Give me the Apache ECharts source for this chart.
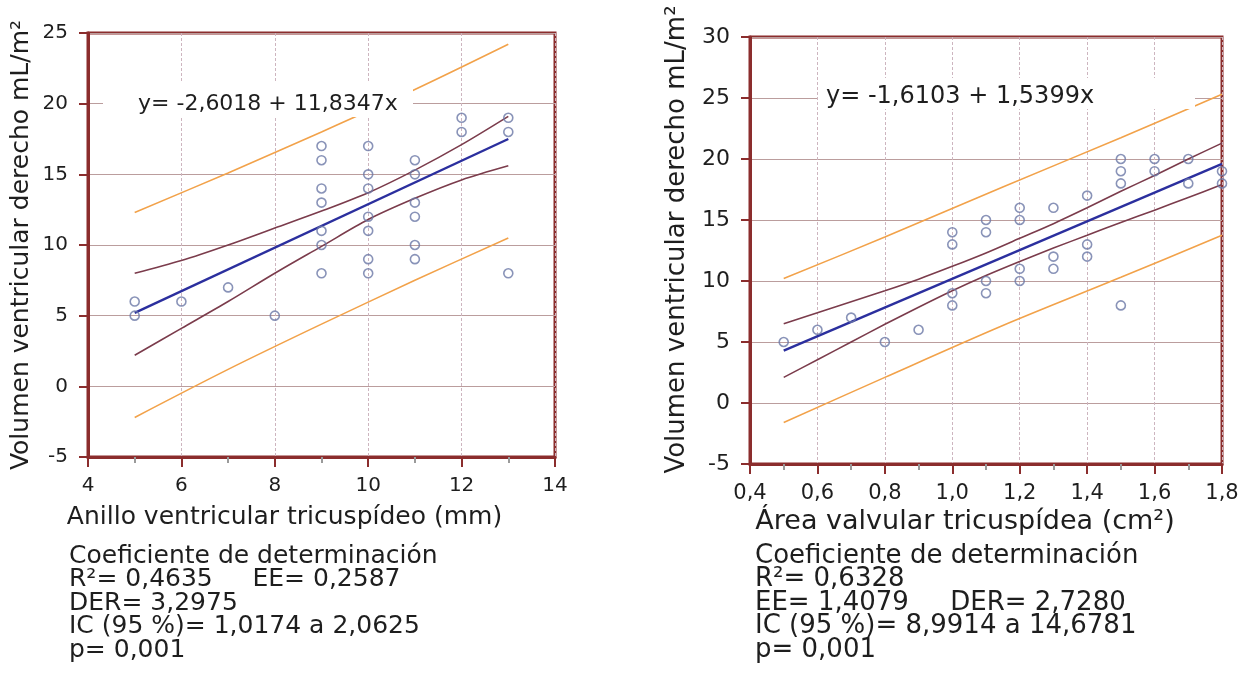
<!doctype html>
<html>
<head>
<meta charset="utf-8">
<title>regresion-volumen-vd</title>
<script src="https://cdn.jsdelivr.net/npm/echarts@6/dist/echarts.min.js"></script>
<style>
  html,body{margin:0;padding:0;background:#fff;}
  #chart{width:1255px;height:686px;}
</style>
</head>
<body>
<div id="chart"></div>
<script>
// ---- datos: anillo ventricular tricuspideo (mm) vs volumen VD ----
var anilloX = [5,5,6,7,8, 9,9,9,9,9,9,9, 10,10,10,10,10,10,10, 11,11,11,11,11,11, 12,12, 13,13,13];
var anilloY = [6,5,6,7,5, 17,16,14,13,11,10,8, 17,15,14,12,11,9,8, 16,15,13,12,10,9, 19,18, 19,18,8];
var anilloLineaX = [5, 13];
var anilloLineaY = [5.2, 17.5];
var anilloBandaX = [5,6,7,8,9,10,11,12,13];
var anilloConfSup = [8.0, 8.9, 10.0, 11.2, 12.4, 13.7, 15.3, 17.1, 19.1];
var anilloConfInf = [2.2, 4.1, 6.0, 8.0, 9.9, 11.8, 13.3, 14.6, 15.6];
var anilloPredX = [5, 7, 9, 11, 13];
var anilloPredSup = [12.3, 15.1, 18.0, 21.0, 24.2];
var anilloPredInf = [-2.2, 1.2, 4.4, 7.5, 10.5];

// ---- datos: area valvular tricuspidea (cm2) vs volumen VD ----
var areaX = [0.5,0.6,0.7,0.8,0.9, 1.0,1.0,1.0,1.0, 1.1,1.1,1.1,1.1, 1.2,1.2,1.2,1.2, 1.3,1.3,1.3, 1.4,1.4,1.4, 1.5,1.5,1.5,1.5, 1.6,1.6, 1.7,1.7, 1.8,1.8];
var areaY = [5,6,7,5,6, 14,13,9,8, 15,14,10,9, 16,15,11,10, 16,12,11, 17,13,12, 20,19,18,8, 20,19, 20,18, 19,18];
var areaLineaX = [0.5, 1.8];
var areaLineaY = [4.3, 19.6];
var areaBandaX = [0.5,0.6,0.7,0.8,0.9,1.0,1.1,1.2,1.3,1.4,1.5,1.6,1.7,1.8];
var areaConfSup = [6.5, 7.4, 8.3, 9.2, 10.15, 11.2, 12.3, 13.5, 14.7, 16.0, 17.35, 18.65, 20.0, 21.3];
var areaConfInf = [2.1, 3.55, 5.0, 6.45, 7.85, 9.2, 10.45, 11.6, 12.7, 13.75, 14.8, 15.8, 16.85, 17.9];
var areaPredX = [0.5, 0.8, 1.15, 1.5, 1.8];
var areaPredSup = [10.2, 13.6, 17.7, 21.75, 25.3];
var areaPredInf = [-1.6, 2.1, 6.35, 10.3, 13.75];

// ---- textos ----
var tituloY = 'Volumen ventricular derecho mL/m²';
var tituloXIzq = 'Anillo ventricular tricuspídeo (mm)';
var tituloXDer = 'Área valvular tricuspídea (cm²)';
var ecuacionIzq = 'y= -2,6018 + 11,8347x';
var ecuacionDer = 'y= -1,6103 + 1,5399x';
var statsIzq = ['Coeficiente de determinación', 'R²= 0,4635     EE= 0,2587', 'DER= 3,2975', 'IC (95 %)= 1,0174 a 2,0625', 'p= 0,001'];
var statsDer = ['Coeficiente de determinación', 'R²= 0,6328', 'EE= 1,4079     DER= 2,7280', 'IC (95 %)= 8,9914 a 14,6781', 'p= 0,001'];

var FONT = '"DejaVu Sans", Verdana, sans-serif';
var GRANATE = '#8b2d2d';
var TEXTO = '#1e1e1e';

function pares(xs, ys){
    var out = [];
    for (var i = 0; i < xs.length; i++) out.push([xs[i], ys[i]]);
    return out;
}

function ejeX(idx, min, max, interval, fs, nfs, gap, pad, nombre, fmt){
    return {
        gridIndex: idx, type: 'value', min: min, max: max, interval: interval,
        name: nombre, nameLocation: 'middle', nameGap: gap,
        nameTextStyle: {fontFamily: FONT, fontSize: nfs, color: TEXTO, padding: pad},
        axisLine: {show: true, onZero: false, lineStyle: {color: GRANATE, width: 3}},
        axisTick: {show: true, length: 10, lineStyle: {color: GRANATE, width: 2}},
        minorTick: {show: true, splitNumber: 2, length: 6, lineStyle: {color: '#9a9a9a', width: 2}},
        axisLabel: {fontFamily: FONT, fontSize: fs, color: TEXTO, margin: 19, formatter: fmt},
        splitLine: {show: true, lineStyle: {color: '#cdb5bf', width: 1, type: [3, 2]}}
    };
}

function ejeY(idx, max, fs, nfs, gap, pad){
    return {
        gridIndex: idx, type: 'value', min: -5, max: max, interval: 5,
        name: tituloY, nameLocation: 'middle', nameGap: gap,
        nameTextStyle: {fontFamily: FONT, fontSize: nfs, color: TEXTO, padding: pad},
        axisLine: {show: true, onZero: false, lineStyle: {color: GRANATE, width: 3}},
        axisTick: {show: true, length: 9, lineStyle: {color: GRANATE, width: 2}},
        axisLabel: {fontFamily: FONT, fontSize: fs, color: TEXTO, margin: 20},
        splitLine: {show: true, lineStyle: {color: '#bb9d9d', width: 1}}
    };
}

function linea(idx, xs, ys, color, width){
    return {
        type: 'line', xAxisIndex: idx, yAxisIndex: idx, data: pares(xs, ys),
        symbol: 'none', smooth: 0.3, silent: true,
        lineStyle: {color: color, width: width}, z: 3
    };
}

function puntos(idx, xs, ys){
    return {
        type: 'scatter', xAxisIndex: idx, yAxisIndex: idx, data: pares(xs, ys),
        symbol: 'circle', symbolSize: 9,
        itemStyle: {color: 'rgba(255,255,255,0)', borderColor: '#6b78a6', borderWidth: 1.6},
        z: 4
    };
}

function textos(lineas, x, y0, paso, fs){
    return lineas.map(function(t, i){
        return {type: 'text', x: x, y: y0 + i * paso, z: 60,
            style: {text: t, font: fs + 'px ' + FONT, fill: TEXTO, textVerticalAlign: 'middle'}};
    });
}

var chart = echarts.init(document.getElementById('chart'));

var option = {
    backgroundColor: '#fff',
    animation: false,
    grid: [
        {left: 88, top: 33, width: 467, height: 424, show: true, borderColor: GRANATE, borderWidth: 3},
        {left: 750, top: 37, width: 472, height: 427, show: true, borderColor: GRANATE, borderWidth: 3}
    ],
    xAxis: [
        ejeX(0, 4, 14, 2, 20, 25, 48, [0, 74, 0, 0], tituloXIzq, function(v){ return String(v); }),
        ejeX(1, 0.4, 1.8, 0.2, 21, 27, 43, [0, 42, 0, 0], tituloXDer, function(v){ return v.toFixed(1).replace('.', ','); })
    ],
    yAxis: [
        ejeY(0, 25, 20, 25, 54, 0),
        ejeY(1, 30, 22, 26, 60, [0, 0, 0, 22])
    ],
    series: [
        linea(0, anilloPredX, anilloPredSup, '#f2a24a', 1.6),
        linea(0, anilloPredX, anilloPredInf, '#f2a24a', 1.6),
        linea(0, anilloBandaX, anilloConfSup, '#7b3c4c', 1.6),
        linea(0, anilloBandaX, anilloConfInf, '#7b3c4c', 1.6),
        linea(0, anilloLineaX, anilloLineaY, '#2b2f9e', 2.4),
        puntos(0, anilloX, anilloY),
        linea(1, areaPredX, areaPredSup, '#f2a24a', 1.6),
        linea(1, areaPredX, areaPredInf, '#f2a24a', 1.6),
        linea(1, areaBandaX, areaConfSup, '#7b3c4c', 1.6),
        linea(1, areaBandaX, areaConfInf, '#7b3c4c', 1.6),
        linea(1, areaLineaX, areaLineaY, '#2b2f9e', 2.4),
        puntos(1, areaX, areaY)
    ],
    graphic: [
        {type: 'rect', shape: {x: 103, y: 82, width: 310, height: 35}, style: {fill: '#fff'}, z: 50},
        {type: 'rect', shape: {x: 818, y: 78, width: 377, height: 31}, style: {fill: '#fff'}, z: 50}
    ]
        .concat(textos([ecuacionIzq], 138, 104, 0, 22))
        .concat(textos([ecuacionDer], 826, 97, 0, 24))
        .concat(textos(statsIzq, 69, 556, 23.5, 25))
        .concat(textos(statsDer, 755, 556, 23.5, 26))
};

chart.setOption(option);
</script>
</body>
</html>
